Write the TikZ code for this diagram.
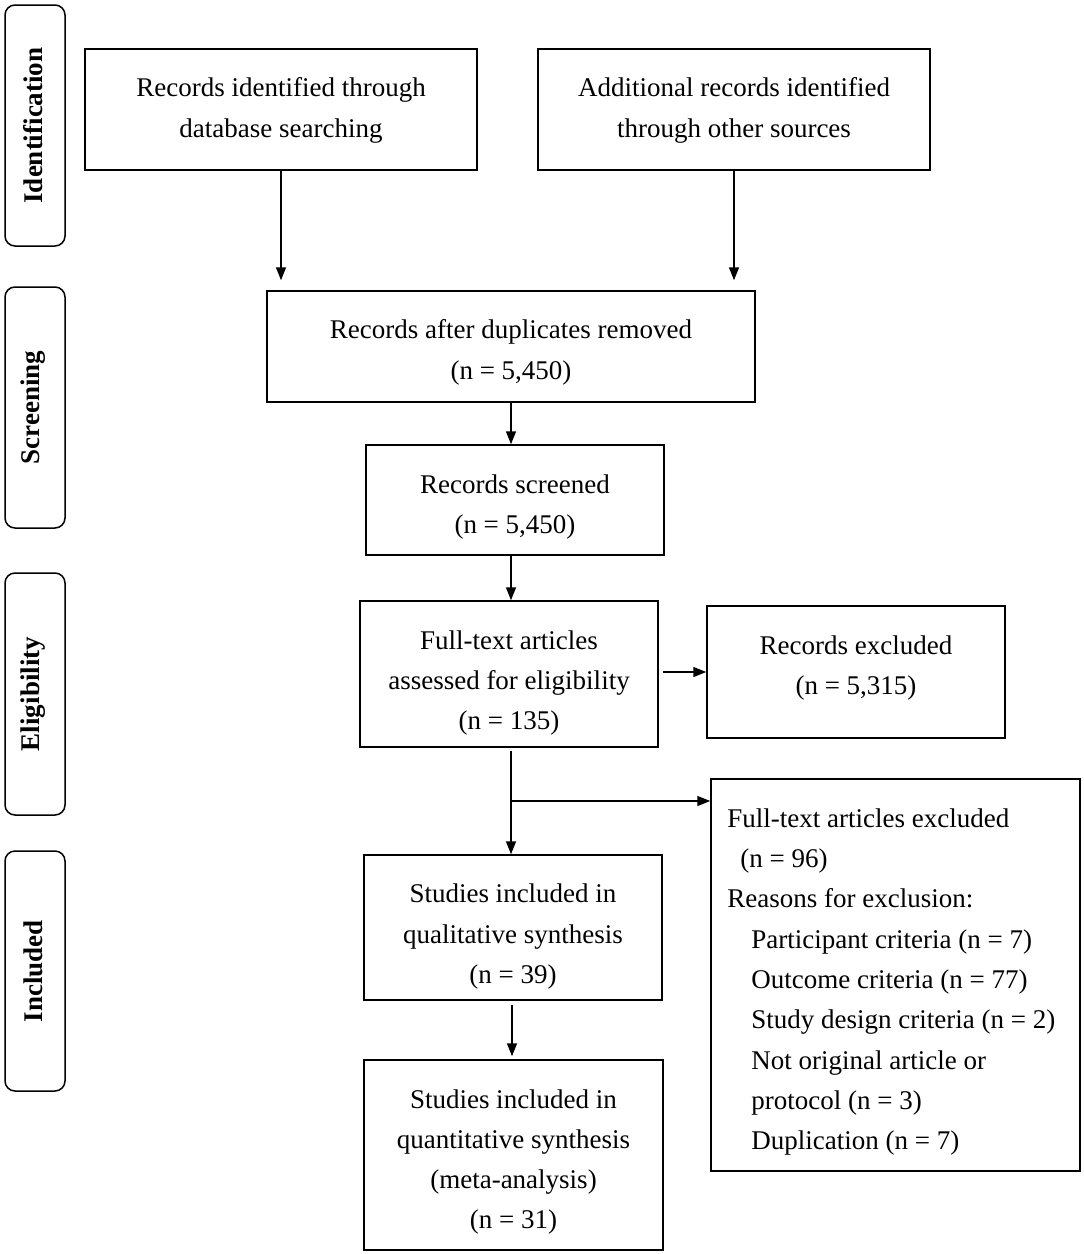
\documentclass[tikz,border=0pt]{standalone}
\usepackage{fontspec}
\setmainfont{Liberation Serif}
\usetikzlibrary{arrows.meta,calc}
\begin{document}
\begin{tikzpicture}[x=1pt,y=-1pt,
  lw/.style={line width=1.5pt},
  stage/.style={draw,lw,rounded corners=10pt,minimum width=60pt,inner sep=0pt},
  stagetext/.style={rotate=90,font=\fontsize{27}{30}\selectfont\bfseries},
  box/.style={draw,lw,inner sep=0pt},
  txt/.style={inner sep=0pt,align=center,font=\fontsize{27}{40.3}\selectfont},
  arr/.style={lw,-{Triangle[length=13pt,width=10pt]}}]
\useasboundingbox (0,0) rectangle (1084,1254);
% stage labels
\node[stage,minimum height=241pt] (s1) at (35,125.5) {};
\node[stagetext] (t1) at ([xshift=-2pt]s1.center) {Identification};
\node[stage,minimum height=241pt] (s2) at (35,407.5) {};
\node[stagetext] (t2) at ([xshift=-2pt]s2.center) {Screening};
\node[stage,minimum height=242pt] (s3) at (35,694) {};
\node[stagetext] (t3) at ([xshift=-2pt]s3.center) {Eligibility};
\node[stage,minimum height=240pt] (s4) at (35,971) {};
\node[stagetext] (t4) at ([xshift=-2pt]s4.center) {Included};
% boxes
\node[box,minimum width=392pt,minimum height=121pt] (A) at (281,109.5) {};
\node[txt] (At) at ([yshift=-1pt]A.center) {Records identified through\\database searching};
\node[box,minimum width=392pt,minimum height=121pt] (B) at (734,109.5) {};
\node[txt] (Bt) at ([yshift=-1pt]B.center) {Additional records identified\\through other sources};
\node[box,minimum width=488pt,minimum height=111pt] (C) at (511,346.5) {};
\node[txt] (Ct) at ([yshift=-6pt]C.center) {Records after duplicates removed\\(n = 5,450)};
\node[box,minimum width=298pt,minimum height=110pt] (D) at (515,500) {};
\node[txt] (Dt) at ([yshift=-7pt]D.center) {Records screened\\(n = 5,450)};
\node[box,minimum width=298pt,minimum height=146pt] (E) at (509,674) {};
\node[txt] (Et) at ([yshift=-9pt]E.center) {Full-text articles\\assessed for eligibility\\(n = 135)};
\node[box,minimum width=298pt,minimum height=132pt] (F) at (856,672) {};
\node[txt] (Ft) at ([yshift=4pt]F.center) {Records excluded\\(n = 5,315)};
\node[box,minimum width=298pt,minimum height=145pt] (G) at (513,927.5) {};
\node[txt] (Gt) at ([yshift=-9pt]G.center) {Studies included in\\qualitative synthesis\\(n = 39)};
\node[box,minimum width=299pt,minimum height=190pt] (I) at (513.5,1155) {};
\node[txt] (It) at ([yshift=-7pt]I.center) {Studies included in\\quantitative synthesis\\(meta-analysis)\\(n = 31)};
\node[box,minimum width=369pt,minimum height=392pt] (H) at (895.5,975) {};
\node[txt,align=left,anchor=west] (Ht) at ([xshift=17pt,yshift=-7pt]H.west)
 {Full-text articles excluded\\
  \hspace*{13pt}(n = 96)\\
  Reasons for exclusion:\\
  \hspace*{24pt}Participant criteria (n = 7)\\
  \hspace*{24pt}Outcome criteria (n = 77)\\
  \hspace*{24pt}Study design criteria (n = 2)\\
  \hspace*{24pt}Not original article or\\
  \hspace*{24pt}protocol (n = 3)\\
  \hspace*{24pt}Duplication (n = 7)};
% connectors
\draw[arr,shorten >=10pt] (A.south) -- (A.south|-C.north);
\draw[arr,shorten >=10pt] (B.south) -- (B.south|-C.north);
\coordinate (cx) at (511,0);
\draw[arr] (cx|-C.south) -- (cx|-D.north);
\draw[arr] (cx|-D.south) -- (cx|-E.north);
\draw[arr] ([xshift=4pt]E.east|-F.west) -- (F.west);
\coordinate (br) at (511,801);
\draw[arr,shorten <=3pt] (cx|-E.south) -- (cx|-G.north);
\draw[arr] (br) -- (br-|H.west);
\coordinate (cy) at (512,0);
\draw[arr,shorten <=4pt,shorten >=3pt] (cy|-G.south) -- (cy|-I.north);
\end{tikzpicture}
\end{document}
